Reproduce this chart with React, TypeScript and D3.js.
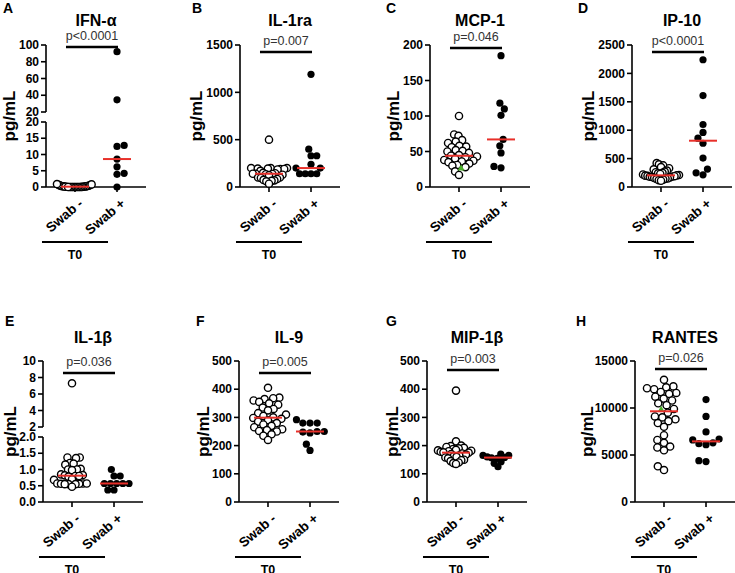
import * as d3 from "d3";

const groups = ["Swab -", "Swab +"];

// IFN-α
const ifnNeg = [0, 0, 0, 0, 0, 0, 0, 0, 0, 0.05, 0.1, 0.1, 0.15, 0.2, 0.2, 0.25, 0.3, 0.3, 0.4, 0.5, 0.6, 0.7, 0.8, 0.9, 0.1, 0];
const ifnPos = [92, 34.5, 12.8, 12.5, 8.6, 6.2, 4.2, 3.9, 0];
// IL-1ra
const il1raNeg = [500, 200, 200, 200, 195, 195, 190, 190, 185, 170, 150, 145, 140, 140, 138, 135, 130, 125, 100, 100, 95, 85, 75, 70, 65, 60, 35];
const il1raPos = [1190, 400, 330, 330, 240, 200, 200, 140, 140, 140, 140];
// MCP-1
const mcp1Neg = [100, 74, 72, 66, 64, 62, 58, 57, 56, 52, 51, 50, 48, 45, 44, 43, 42, 40, 38, 37, 36, 35, 33, 31, 30, 28, 26, 22, 17];
const mcp1Pos = [185, 118, 110, 101, 67, 58, 48, 29, 27];
// IP-10
const ip10Neg = [420, 400, 380, 350, 330, 310, 290, 270, 260, 250, 240, 230, 185, 220, 210, 205, 200, 195, 190, 180, 175, 170, 160, 150, 145, 140, 130, 120, 110];
const ip10Pos = [2240, 1610, 1100, 960, 860, 770, 510, 315, 250, 215];
// IL-1β
const il1bNeg = [7.3, 1.37, 1.37, 1.35, 1.2, 1.18, 1.15, 1.02, 1.0, 1.0, 0.98, 0.85, 0.83, 0.82, 0.8, 0.8, 0.78, 0.7, 0.68, 0.57, 0.57, 0.57, 0.56, 0.56, 0.55, 0.55, 0.55, 0.47];
const il1bPos = [1.0, 0.8, 0.8, 0.57, 0.57, 0.57, 0.57, 0.57, 0.37, 0.37];
// IL-9
const il9Neg = [405, 370, 368, 365, 360, 355, 350, 345, 335, 330, 325, 315, 310, 305, 300, 298, 295, 290, 285, 280, 275, 270, 265, 258, 255, 252, 250, 240, 235, 220];
const il9Pos = [292, 280, 280, 280, 250, 250, 248, 245, 205, 183];
// MIP-1β
const mip1bNeg = [395, 215, 200, 198, 195, 192, 190, 188, 185, 183, 182, 180, 178, 176, 175, 172, 170, 168, 165, 163, 160, 158, 155, 150, 148, 145, 140, 138, 135];
const mip1bPos = [170, 165, 165, 160, 158, 157, 155, 143, 137, 125];
// RANTES
const rantesNeg = [13000, 12300, 12200, 12100, 12000, 11700, 11600, 11500, 11200, 11000, 10800, 10500, 10300, 9900, 9800, 9500, 9100, 9000, 8800, 8600, 8400, 8000, 7100, 6600, 6300, 5900, 5800, 5500, 3800, 3400];
const rantesPos = [10900, 9100, 7450, 6700, 6600, 6300, 6200, 6100, 4400, 4300];

const letters = ["A", "B", "C", "D", "E", "F", "G", "H"];
const titles = ["IFN-\u03b1", "IL-1ra", "MCP-1", "IP-10", "IL-1\u03b2", "IL-9", "MIP-1\u03b2", "RANTES"];
const pValues = ["p<0.0001", "p=0.007", "p=0.046", "p<0.0001", "p=0.036", "p=0.005", "p=0.003", "p=0.026"];

type Spec = {
  neg: number[];
  pos: number[];
  max: number;
  ticks: number[];
  breakAt?: number;
  upperTicks?: number[];
  fmt?: (v: number) => string;
  flag?: number;
};

const specs: Spec[] = [
  { neg: ifnNeg, pos: ifnPos, max: 100, breakAt: 20, ticks: [0, 5, 10, 15, 20], upperTicks: [20, 40, 60, 80, 100] },
  { neg: il1raNeg, pos: il1raPos, max: 1500, ticks: [0, 500, 1000, 1500] },
  { neg: mcp1Neg, pos: mcp1Pos, max: 200, ticks: [0, 50, 100, 150, 200], flag: 26 },
  { neg: ip10Neg, pos: ip10Pos, max: 2500, ticks: [0, 500, 1000, 1500, 2000, 2500] },
  { neg: il1bNeg, pos: il1bPos, max: 10, breakAt: 2, ticks: [0, 0.5, 1, 1.5, 2], upperTicks: [2, 4, 6, 8, 10], fmt: d3.format(".1f") },
  { neg: il9Neg, pos: il9Pos, max: 500, ticks: [0, 100, 200, 300, 400, 500] },
  { neg: mip1bNeg, pos: mip1bPos, max: 500, ticks: [0, 100, 200, 300, 400, 500] },
  { neg: rantesNeg, pos: rantesPos, max: 15000, ticks: [0, 5000, 10000, 15000], flag: 9800 },
];

// layout
const axisXs = [46, 240, 430, 632, 43, 239, 427, 635];
const labelXs = [10, 197, 394, 589, 11, 204, 393, 588];
const letterXs = [3, 192, 386, 578, 5, 196, 386, 576];
const bracketDy = [2, 7, 3, 7, 12, 12, 9, 8];
const rows = [
  { top: 45, bottom: 187, letterY: 13, titleY: 26, t0Y: 242, t0TextY: 259 },
  { top: 361, bottom: 502, letterY: 326, titleY: 343, t0Y: 557, t0TextY: 574 },
];

const FONT = "'Liberation Sans', Arial, Helvetica, sans-serif";
const R = 3.6;

// simple beeswarm: each dot goes to the free spot nearest the centre line,
// and the whole group is squeezed when it gets wider than maxW
function swarm(values: number[], y: (v: number) => number, maxW: number) {
  const D = 7.2;
  const order = values.map((_, i) => i).sort((a, b) => values[a] - values[b]);
  const placed: { x: number; y: number }[] = [];
  const offs = new Array(values.length).fill(0);
  let flip = false;
  for (const i of order) {
    const py = y(values[i]);
    const iv: [number, number][] = [];
    for (const p of placed) {
      const dy = Math.abs(p.y - py);
      if (dy < D) {
        const w = Math.sqrt(D * D - dy * dy);
        iv.push([p.x - w, p.x + w]);
      }
    }
    const cands = [0, ...iv.flatMap(([a, b]) => [a, b])];
    cands.sort((a, b) => Math.abs(a) - Math.abs(b) || (flip ? a - b : b - a));
    let best = 0;
    for (const c of cands) {
      if (iv.every(([a, b]) => c <= a + 1e-6 || c >= b - 1e-6)) {
        best = c;
        break;
      }
    }
    flip = !flip;
    offs[i] = best;
    placed.push({ x: best, y: py });
  }
  const m = d3.max(offs, (o: number) => Math.abs(o)) || 0;
  if (m > maxW / 2) {
    const k = maxW / 2 / m;
    for (let j = 0; j < offs.length; j++) offs[j] *= k;
  }
  return offs;
}

function Panel({ i }: { i: number }) {
  const spec = specs[i];
  const lay = rows[i < 4 ? 0 : 1];
  const ax = axisXs[i];
  const x = d3.scalePoint<string>().domain(groups).range([ax, ax + 100]).padding(0.69);
  const lower = d3
    .scaleLinear()
    .domain([0, spec.breakAt ?? spec.max])
    .range([lay.bottom, spec.breakAt ? lay.bottom - 65 : lay.top]);
  const upper = spec.breakAt
    ? d3.scaleLinear().domain([spec.breakAt, spec.max]).range([lay.bottom - 75, lay.top])
    : null;
  const y = (v: number) => (upper && v > (spec.breakAt as number) ? upper(v) : lower(v));
  const fmt = spec.fmt ?? ((v: number) => String(v));
  const upFmt = (v: number) => String(v);

  const c0 = x(groups[0]) as number;
  const c1 = x(groups[1]) as number;
  const bracketY = lay.top + bracketDy[i];
  const bx0 = c0 - 9;
  const bx1 = c1 + 1;
  const negOff = swarm(spec.neg, y, 36);
  const posOff = swarm(spec.pos, y, 30);
  const flagIdx = spec.flag !== undefined ? spec.neg.indexOf(spec.flag) : -1;
  const medNeg = d3.median(spec.neg) as number;
  const medPos = d3.median(spec.pos) as number;

  const segs = upper
    ? [
        { s: lower, t: spec.ticks, f: fmt },
        { s: upper, t: spec.upperTicks as number[], f: upFmt },
      ]
    : [{ s: lower, t: spec.ticks, f: fmt }];

  return (
    <g>
      <text x={letterXs[i]} y={lay.letterY} fontSize={14} fontWeight="bold">
        {letters[i]}
      </text>
      <text x={(c0 + c1) / 2} y={lay.titleY} fontSize={16} fontWeight="bold" textAnchor="middle">
        {titles[i]}
      </text>
      <text x={(bx0 + bx1) / 2} y={bracketY - 7} fontSize={12.5} textAnchor="middle" fill="#333">
        {pValues[i]}
      </text>
      <line x1={bx0} x2={bx1} y1={bracketY} y2={bracketY} stroke="#000" strokeWidth={2.6} />
      <text
        transform={`translate(${labelXs[i]},${(lay.top + lay.bottom) / 2}) rotate(-90)`}
        fontSize={17}
        fontWeight="bold"
        textAnchor="middle"
        dy="0.3em"
      >
        pg/mL
      </text>
      {segs.map((sg, k) => {
        const [r0, r1] = sg.s.range();
        return (
          <g key={k}>
            <line x1={ax} x2={ax} y1={r0} y2={r1} stroke="#000" strokeWidth={1.6} />
            {sg.t.map((t) => (
              <g key={t}>
                <line x1={ax - 5} x2={ax} y1={sg.s(t)} y2={sg.s(t)} stroke="#000" strokeWidth={1.6} />
                <text x={ax - 7} y={sg.s(t)} dy="0.35em" fontSize={12} fontWeight="bold" textAnchor="end">
                  {sg.f(t)}
                </text>
              </g>
            ))}
          </g>
        );
      })}
      <line x1={ax} x2={ax + 100} y1={lay.bottom} y2={lay.bottom} stroke="#000" strokeWidth={1.6} />
      {groups.map((g) => (
        <g key={g}>
          <line x1={x(g)} x2={x(g)} y1={lay.bottom} y2={lay.bottom + 5} stroke="#000" strokeWidth={1.6} />
          <text
            transform={`translate(${(x(g) as number) + 9},${lay.bottom + 18}) rotate(-40)`}
            fontSize={13.5}
            fontWeight="bold"
            textAnchor="end"
          >
            {g}
          </text>
        </g>
      ))}
      <line x1={c0 - 33} x2={c1 - 9} y1={lay.t0Y} y2={lay.t0Y} stroke="#000" strokeWidth={2.2} />
      <text x={(c0 + c1 - 42) / 2} y={lay.t0TextY} fontSize={12.5} fontWeight="bold" textAnchor="middle">
        T0
      </text>
      {spec.neg.map((v, k) =>
        k === flagIdx ? null : (
          <circle key={k} cx={c0 + negOff[k]} cy={y(v)} r={R} fill="#fff" stroke="#000" strokeWidth={1.4} />
        )
      )}
      {flagIdx >= 0 && (
        <path
          d={d3.symbol(d3.symbolTriangle, 22)() as string}
          transform={`translate(${c0 + negOff[flagIdx]},${y(spec.neg[flagIdx])})`}
          fill="#4caf2a"
        />
      )}
      {spec.pos.map((v, k) => (
        <circle key={k} cx={c1 + posOff[k]} cy={y(v)} r={R} fill="#000" />
      ))}
      <line x1={c0 - 14} x2={c0 + 14} y1={y(medNeg)} y2={y(medNeg)} stroke="#e8302a" strokeWidth={2} />
      <line x1={c1 - 14} x2={c1 + 14} y1={y(medPos)} y2={y(medPos)} stroke="#e8302a" strokeWidth={2} />
    </g>
  );
}

export default function App() {
  return (
    <svg
      width={735}
      height={573}
      style={{ position: "absolute", left: 0, top: 0, display: "block", background: "#fff" }}
      fontFamily={FONT}
    >
      <rect width={735} height={573} fill="#fff" />
      {specs.map((_, i) => (
        <Panel key={i} i={i} />
      ))}
    </svg>
  );
}
